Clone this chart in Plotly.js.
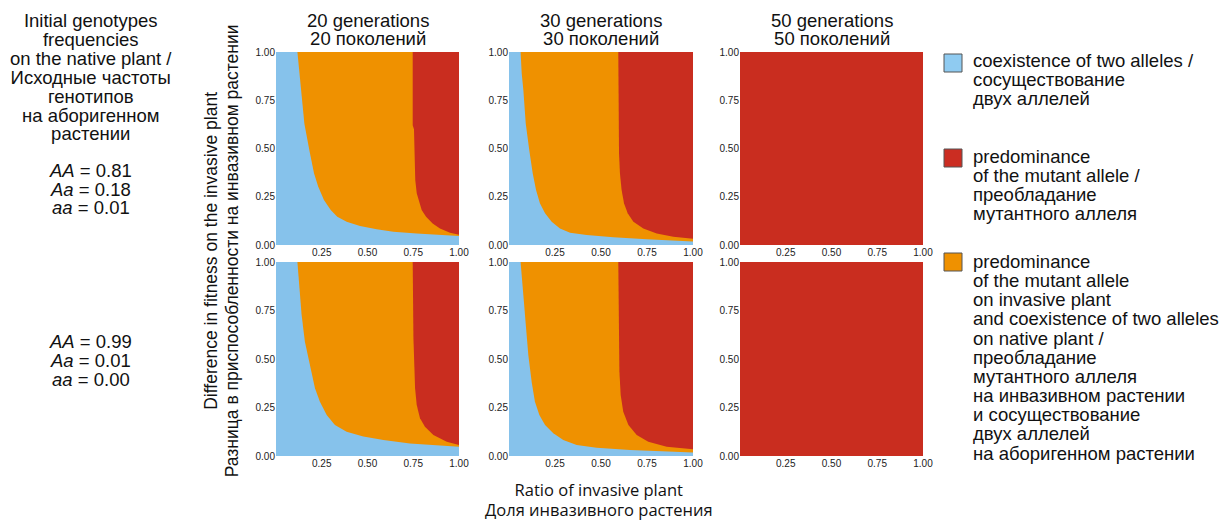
<!DOCTYPE html>
<html><head><meta charset="utf-8">
<script src="https://cdn.plot.ly/plotly-3.0.1.min.js"></script>
<style>html,body{margin:0;padding:0;background:#fff;} #chart{width:1227px;height:520px;}</style>
</head><body><div id="chart"></div>
<script>
// ---------------- data ----------------
const ratioRange = [0, 1];      // ratio of invasive plant
const fitnessRange = [0, 1];    // difference in fitness
const xTickVals = [0.25, 0.5, 0.75, 1.0];
const yTickVals = [0, 0.25, 0.5, 0.75, 1.0];

const generationsEn = ["20 generations", "30 generations", "50 generations"];
const generationsRu = ["20 поколений", "30 поколений", "50 поколений"];

const freqAA = ["0.81", "0.99"];
const freqAa = ["0.18", "0.01"];
const freqaa = ["0.01", "0.00"];

// boundary between coexistence and orange region (from top edge to right edge)
// boundary between orange and red region
// Row 1: AA=0.81, 20 generations
const r1g20_coexX = [0.117,0.128,0.131,0.144,0.155,0.182,0.208,0.231,0.262,0.299,0.335,0.386,0.459,0.55,0.641,0.769,0.914,1.0];
const r1g20_coexY = [1.0,0.89,0.838,0.734,0.63,0.492,0.371,0.302,0.233,0.181,0.147,0.121,0.098,0.081,0.069,0.06,0.052,0.047];
const r1g20_mutX = [0.747,0.747,0.754,0.761,0.769,0.783,0.796,0.82,0.856,0.896,0.951,1.0];
const r1g20_mutY = [1.0,0.62,0.6,0.337,0.268,0.216,0.181,0.147,0.112,0.086,0.064,0.053];
// Row 1: 30 generations
const r1g30_coexX = [0.063,0.069,0.078,0.091,0.11,0.129,0.147,0.168,0.196,0.232,0.277,0.332,0.422,0.567,0.748,0.929,1.0];
const r1g30_coexY = [1.0,0.89,0.803,0.63,0.492,0.371,0.285,0.216,0.164,0.121,0.086,0.064,0.052,0.04,0.03,0.021,0.018];
const r1g30_mutX = [0.594,0.598,0.603,0.612,0.625,0.645,0.676,0.73,0.803,0.893,1.0];
const r1g30_mutY = [1.0,0.475,0.371,0.285,0.216,0.164,0.121,0.086,0.06,0.043,0.033];
// Row 1: 50 generations (all predominance of mutant allele)
const r1g50_coexX = [];
const r1g50_coexY = [];
const r1g50_mutX = [0, 0];
const r1g50_mutY = [1, 0];
// Row 2: AA=0.99, 20 generations
const r2g20_coexX = [0.117,0.131,0.14,0.158,0.186,0.213,0.24,0.277,0.322,0.386,0.477,0.587,0.732,0.896,1.0];
const r2g20_coexY = [1.0,0.83,0.727,0.589,0.469,0.349,0.28,0.211,0.16,0.125,0.1,0.082,0.065,0.053,0.048];
const r2g20_mutX = [0.747,0.751,0.76,0.769,0.787,0.814,0.86,0.933,1.0];
const r2g20_mutY = [1.0,0.608,0.349,0.263,0.194,0.151,0.108,0.074,0.057];
// Row 2: 30 generations
const r2g30_coexX = [0.063,0.074,0.087,0.105,0.123,0.141,0.165,0.196,0.241,0.295,0.368,0.476,0.658,0.857,1.0];
const r2g30_coexY = [1.0,0.864,0.692,0.52,0.383,0.28,0.211,0.16,0.117,0.082,0.057,0.043,0.031,0.022,0.018];
const r2g30_mutX = [0.594,0.6,0.607,0.621,0.649,0.694,0.757,0.857,1.0];
const r2g30_mutY = [1.0,0.435,0.314,0.228,0.16,0.108,0.074,0.048,0.035];
// Row 2: 50 generations
const r2g50_coexX = [];
const r2g50_coexY = [];
const r2g50_mutX = [0, 0];
const r2g50_mutY = [1, 0];

const legendLabels = [
  ["coexistence of two alleles /", "сосуществование", "двух аллелей"],
  ["predominance", "of the mutant allele /", "преобладание", "мутантного аллеля"],
  ["predominance", "of the mutant allele", "on invasive plant", "and coexistence of two alleles", "on native plant /", "преобладание", "мутантного аллеля", "на инвазивном растении", "и сосуществование", "двух аллелей", "на аборигенном растении"]
];
const leftTitle = ["Initial genotypes", "frequencies", "on the native plant /", "Исходные частоты", "генотипов", "на аборигенном", "растении"];
const xTitle = ["Ratio of invasive plant", "Доля инвазивного растения"];
const yTitle = ["Difference in fitness on the invasive plant", "Разница в приспособленности на инвазивном растении"];

// ---------------- styling ----------------
const W = 1227, H = 520;
const COL_BLUE = "#86C2EB", COL_ORANGE = "#EF9100", COL_RED = "#C92D1F";
const LEG_COLORS = ["#8FCBF1", "#CB2D22", "#EF9100"];
const FONT = "Liberation Sans, Arial, sans-serif";
const px = v => v / W;
const py = v => 1 - v / H;

const colPx = [[276, 459], [509, 693], [740, 923]];
const rowPx = [[52, 245], [262, 456]];

const panels = [
  [r1g20_coexX, r1g20_coexY, r1g20_mutX, r1g20_mutY],
  [r1g30_coexX, r1g30_coexY, r1g30_mutX, r1g30_mutY],
  [r1g50_coexX, r1g50_coexY, r1g50_mutX, r1g50_mutY],
  [r2g20_coexX, r2g20_coexY, r2g20_mutX, r2g20_mutY],
  [r2g30_coexX, r2g30_coexY, r2g30_mutX, r2g30_mutY],
  [r2g50_coexX, r2g50_coexY, r2g50_mutX, r2g50_mutY]
];

const traces = [];
const layout = {
  width: W, height: H,
  margin: {l: 0, r: 0, t: 0, b: 0},
  paper_bgcolor: "#fff", plot_bgcolor: "#fff",
  showlegend: false,
  font: {family: FONT, color: "#111"},
  annotations: [], shapes: []
};

panels.forEach((p, i) => {
  const n = i + 1;
  const xa = "x" + n, ya = "y" + n;
  const [cx, cy, mx, my] = p;
  // coexistence region (whole square underneath)
  traces.push({
    type: "scatter", mode: "lines", xaxis: xa, yaxis: ya,
    x: [ratioRange[0], ratioRange[1], ratioRange[1], ratioRange[0]],
    y: [fitnessRange[0], fitnessRange[0], fitnessRange[1], fitnessRange[1]],
    fill: "toself", fillcolor: COL_BLUE, line: {width: 0}, hoverinfo: "skip"
  });
  // orange region: above/right of coexistence boundary
  if (cx.length) {
    traces.push({
      type: "scatter", mode: "lines", xaxis: xa, yaxis: ya,
      x: cx.concat([ratioRange[1]]), y: cy.concat([fitnessRange[1]]),
      fill: "toself", fillcolor: COL_ORANGE, line: {width: 0}, hoverinfo: "skip"
    });
  }
  // red region: right of mutant boundary
  const rx = mx.slice(), ry = my.slice();
  if (ry[ry.length - 1] === fitnessRange[0]) { rx.push(ratioRange[1]); ry.push(fitnessRange[0]); }
  rx.push(ratioRange[1]); ry.push(fitnessRange[1]);
  traces.push({
    type: "scatter", mode: "lines", xaxis: xa, yaxis: ya,
    x: rx, y: ry, fill: "toself", fillcolor: COL_RED, line: {width: 0}, hoverinfo: "skip"
  });

  const c = colPx[i % 3], r = rowPx[Math.floor(i / 3)];
  const tickfont = {family: FONT, size: 10, color: "#222"};
  layout["xaxis" + n] = {
    domain: [px(c[0]), px(c[1])], anchor: ya, range: ratioRange.slice(),
    tickvals: xTickVals, tickformat: ".2f", showgrid: false, zeroline: false,
    showline: false, ticks: "", tickfont: tickfont, fixedrange: true
  };
  layout["yaxis" + n] = {
    domain: [py(r[1]), py(r[0])], anchor: xa, range: fitnessRange.slice(),
    tickvals: yTickVals, tickformat: ".2f", showgrid: false, zeroline: false,
    showline: false, ticks: "", tickfont: tickfont, fixedrange: true
  };
});

// multi-line text block: glyph size and line spacing set independently
function block(lines, x, yCenter, glyph, spacing, opts) {
  const o = Object.assign({family: FONT, xanchor: "center", align: "center"}, opts || {});
  layout.annotations.push({
    text: lines.map(l => '<span style="font-size:' + glyph + 'px">' + l + '</span>').join("<br>"),
    xref: "paper", yref: "paper", x: px(x), y: py(yCenter),
    xanchor: o.xanchor, yanchor: "middle", align: o.align, showarrow: false,
    textangle: o.textangle || 0,
    font: {family: o.family, size: spacing / 1.3, color: "#111"}
  });
}

// column titles
for (let k = 0; k < 3; k++) {
  const cxm = (colPx[k][0] + colPx[k][1]) / 2;
  block([generationsEn[k], generationsRu[k]], cxm, 29.5, 18.5, 18);
}

// left title
block(leftTitle, 90.5, 76.7, 18.5, 18.9);
block(["<i>AA</i> = " + freqAA[0], "<i>Aa</i> = " + freqAa[0], "<i>aa</i> = " + freqaa[0]], 90.5, 189.1, 18.5, 18.5);
block(["<i>AA</i> = " + freqAA[1], "<i>Aa</i> = " + freqAa[1], "<i>aa</i> = " + freqaa[1]], 90.5, 360.5, 18.5, 18.8);

// axis titles
block(xTitle, 599, 499.3, 16.5, 19.5, {family: "Open Sans, sans-serif"});
block(yTitle, 221.3, 251, 17.5, 20.5, {textangle: -90});

// legend
const legCenter = [79.2, 184.7, 357.5];
const legSwatch = [[54, 72], [149, 167], [253, 271]];
legendLabels.forEach((lines, k) => {
  layout.shapes.push({
    type: "rect", xref: "paper", yref: "paper",
    x0: px(944), x1: px(962), y0: py(legSwatch[k][1]), y1: py(legSwatch[k][0]),
    fillcolor: LEG_COLORS[k], line: {color: "#555", width: 1}
  });
  block(lines, 971, legCenter[k], 18.5, 19.15, {xanchor: "left", align: "left"});
});

Plotly.newPlot("chart", traces, layout, {displayModeBar: false, staticPlot: true});
</script>
</body></html>
